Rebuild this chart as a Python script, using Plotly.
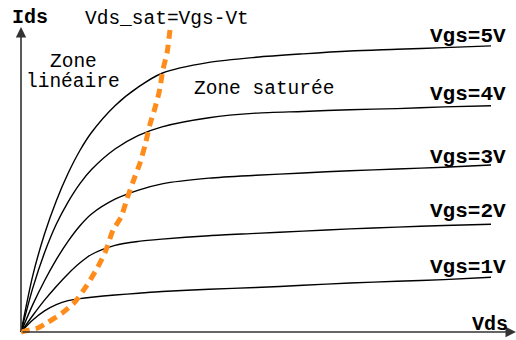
import plotly.graph_objects as go

# Vds grid (V)
vds = [0, 0.25, 0.5, 0.75, 1, 1.25, 1.5, 2, 2.5, 3, 4, 5, 6, 7, 8, 9, 10]

# Ids curves (arbitrary units) for each Vgs
ids_vgs5 = [0, 0.99, 1.72, 2.30, 2.78, 3.18, 3.50, 3.97, 4.30, 4.54, 4.73, 4.82, 4.88, 4.93, 4.96, 4.99, 5.02]
ids_vgs4 = [0, 0.77, 1.39, 1.89, 2.28, 2.60, 2.85, 3.21, 3.45, 3.60, 3.76, 3.84, 3.87, 3.90, 3.92, 3.95, 3.97]
ids_vgs3 = [0, 0.48, 0.90, 1.27, 1.59, 1.86, 2.07, 2.33, 2.49, 2.60, 2.70, 2.75, 2.79, 2.83, 2.86, 2.89, 2.93]
ids_vgs2 = [0, 0.29, 0.56, 0.80, 1.02, 1.21, 1.36, 1.52, 1.59, 1.63, 1.69, 1.73, 1.77, 1.81, 1.84, 1.87, 1.89]
ids_vgs1 = [0, 0.21, 0.37, 0.48, 0.55, 0.585, 0.61, 0.65, 0.68, 0.71, 0.75, 0.78, 0.82, 0.86, 0.89, 0.92, 0.96]

curves = [ids_vgs1, ids_vgs2, ids_vgs3, ids_vgs4, ids_vgs5]
labels = ["Vgs=1V", "Vgs=2V", "Vgs=3V", "Vgs=4V", "Vgs=5V"]

# Saturation boundary Vds_sat = Vgs - Vt
sat_vds = [0, 0.09, 0.36, 0.55, 0.87, 1.15, 1.40, 1.62, 1.79, 1.96, 2.13, 2.26, 2.38, 2.53, 2.64, 2.74, 2.85, 2.94, 3.02, 3.11, 3.17]
sat_ids = [0, 0.02, 0.07, 0.16, 0.33, 0.53, 0.82, 1.12, 1.40, 1.79, 2.02, 2.35, 2.63, 2.96, 3.28, 3.63, 3.93, 4.21, 4.60, 4.91, 5.30]

FONT = "Liberation Mono"

fig = go.Figure()

for ids in curves:
    fig.add_trace(go.Scatter(x=vds, y=ids, mode="lines",
                             line=dict(color="black", width=1.4, shape="spline", smoothing=0.8),
                             hoverinfo="skip", showlegend=False))

fig.add_trace(go.Scatter(x=sat_vds, y=sat_ids, mode="lines",
                         line=dict(color="#ff8c1a", width=5, dash="9px,6px", shape="spline", smoothing=0.6),
                         hoverinfo="skip", showlegend=False))

# Axes drawn as arrows
fig.add_annotation(x=0, y=5.35, ax=0, ay=0, xref="x", yref="y", axref="x", ayref="y",
                   text="", showarrow=True, arrowhead=2, arrowsize=1.3, arrowwidth=1.6, arrowcolor="#333")
fig.add_annotation(x=10.53, y=0, ax=0, ay=0, xref="x", yref="y", axref="x", ayref="y",
                   text="", showarrow=True, arrowhead=2, arrowsize=1.3, arrowwidth=1.6, arrowcolor="#333")

# Curve labels
label_y = [1.14, 2.11, 3.07, 4.16, 5.18]
for lab, ly in zip(labels, label_y):
    fig.add_annotation(x=9.51, y=ly, text="<b>" + lab + "</b>", showarrow=False,
                       font=dict(family=FONT, size=21, color="black"),
                       xanchor="center", yanchor="middle")

fig.add_annotation(x=0.19, y=5.51, text="<b>Ids</b>", showarrow=False,
                   font=dict(family=FONT, size=20, color="black"))
fig.add_annotation(x=9.98, y=0.13, text="<b>Vds</b>", showarrow=False,
                   font=dict(family=FONT, size=20, color="black"))
fig.add_annotation(x=3.10, y=5.49, text="Vds_sat=Vgs-Vt", showarrow=False,
                   font=dict(family=FONT, size=19.5, color="black"))
fig.add_annotation(x=1.11, y=4.74, text="Zone", showarrow=False,
                   font=dict(family=FONT, size=19.5, color="black"))
fig.add_annotation(x=1.11, y=4.39, text="linéaire", showarrow=False,
                   font=dict(family=FONT, size=19.5, color="black"))
fig.add_annotation(x=5.17, y=4.26, text="Zone saturée", showarrow=False,
                   font=dict(family=FONT, size=19.5, color="black"))

fig.update_layout(
    width=516, height=340,
    margin=dict(l=0, r=0, t=0, b=0),
    paper_bgcolor="white", plot_bgcolor="white",
    xaxis=dict(range=[-0.447, 10.532], visible=False, fixedrange=True),
    yaxis=dict(range=[-0.140, 5.825], visible=False, fixedrange=True),
    showlegend=False,
)

fig.write_html("out.html", config={"displayModeBar": False},
               post_script="document.body.style.margin='0';document.body.style.overflow='hidden';")
